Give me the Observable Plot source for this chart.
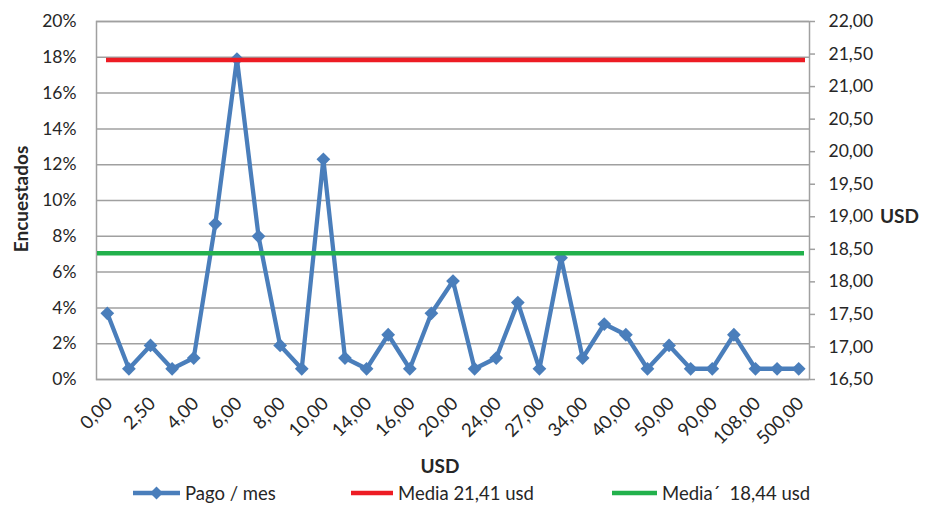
<!DOCTYPE html>
<html><head><meta charset="utf-8">
<script src="https://cdn.jsdelivr.net/npm/d3@7"></script>
<script src="https://cdn.jsdelivr.net/npm/@observablehq/plot@0.6"></script>
<style>
body{margin:0;background:#fff;font-family:Lato,"Open Sans",sans-serif;color:#262626;}
#wrap{position:relative;width:927px;height:506px;overflow:hidden;}
#chart{position:absolute;left:0;top:0;}
.t{position:absolute;font-weight:bold;white-space:nowrap;color:#262626;}
.item{position:absolute;top:482px;height:22px;display:flex;align-items:center;font-size:18.5px;color:#262626;white-space:pre;}
.item svg{margin-right:5px;}
</style></head><body>
<div id="wrap"><div id="chart"></div>
<div class="t" style="left:20px;top:199px;font-size:19px;transform:translate(-50%,-50%) rotate(-90deg);">Encuestados</div>
<div class="t" style="left:880px;top:215px;font-size:19px;transform:translate(0,-50%);">USD</div>
<div class="t" style="left:440px;top:465px;font-size:19px;transform:translate(-50%,-50%);">USD</div>
<div id="legend"></div>
</div>
<script>
const categories = ["0,00","1,00","2,50","3,00","4,00","5,00","6,00","7,00","8,00","9,00","10,00","12,00","14,00","15,00","16,00","18,00","20,00","22,00","24,00","25,00","27,00","30,00","34,00","35,00","40,00","45,00","50,00","60,00","90,00","100,00","108,00","200,00","500,00"];
const pagoMes = [3.7,0.6,1.9,0.6,1.2,8.7,17.9,8.0,1.9,0.6,12.3,1.2,0.6,2.5,0.6,3.7,5.5,0.6,1.2,4.3,0.6,6.8,1.2,3.1,2.5,0.6,1.9,0.6,0.6,2.5,0.6,0.6,0.6];
const leftTicks = [0,2,4,6,8,10,12,14,16,18,20];
const rightTicks = [16.5,17,17.5,18,18.5,19,19.5,20,20.5,21,21.5,22];
const mediaValues = [21.41, 18.44];
const seriesNames = ["Pago / mes","Media 21,41 usd","Media´  18,44 usd"];
const colors = ["#4a7ebb","#ed1c24","#22b14c"];

const rMin = rightTicks[0], rMax = rightTicks[rightTicks.length-1];
const lMax = leftTicks[leftTicks.length-1];
const toLeft = v => (v - rMin) / (rMax - rMin) * lMax;
const fmt2 = v => v.toFixed(2).replace(".", ",");

const data = pagoMes.map((v,i) => ({i, v}));
const evens = categories.map((c,i)=>i).filter(i => i % 2 === 0);

const chart = Plot.plot({
  width: 927, height: 472,
  marginLeft: 96, marginRight: 118, marginTop: 21, marginBottom: 93,
  style: {fontFamily: "Lato, 'Open Sans', sans-serif", fontSize: "17.5px", color: "#262626", background: "transparent"},
  x: {type: "linear", domain: [-0.5, categories.length - 0.5]},
  y: {domain: [0, lMax]},
  marks: [
    Plot.gridY(leftTicks, {stroke: "#a0a0a0", strokeOpacity: 1, strokeWidth: 1.5}),
    Plot.frame({stroke: "#a0a0a0", strokeWidth: 1.5}),
    Plot.axisY(leftTicks, {anchor: "left", tickSize: 0, tickPadding: 20, tickFormat: d => d + "%", label: null}),
    Plot.axisY(rightTicks.map(toLeft), {anchor: "right", tickSize: 5, tickPadding: 14, stroke: "#a0a0a0", strokeWidth: 1.5, tickFormat: (d, i) => fmt2(rightTicks[i]), label: null}),
    Plot.axisX(evens, {tickSize: 0, tickPadding: 21, dx: 2, fontSize: 18.5, tickRotate: -45, tickFormat: i => categories[i], label: null}),
    Plot.line(data, {x: "i", y: "v", stroke: colors[0], strokeWidth: 4.3, strokeLinejoin: "miter"}),
    Plot.dot(data, {x: "i", y: "v", symbol: "diamond2", r: 6.2, fill: colors[0], stroke: "none"}),
    Plot.ruleY([toLeft(mediaValues[0])], {stroke: colors[1], strokeWidth: 4.5, insetLeft: 10, insetRight: 4}),
    Plot.ruleY([toLeft(mediaValues[1])], {stroke: colors[2], strokeWidth: 4.5, insetLeft: 1, insetRight: 5})
  ]
});
document.getElementById("chart").appendChild(chart);

const legend = document.getElementById("legend");
const lx = [133, 351, 612];
const lw = [47, 42, 45];
seriesNames.forEach((name, k) => {
  const d = document.createElement("div");
  d.className = "item";
  d.style.left = lx[k] + "px";
  const w = lw[k];
  let sw = `<svg width="${w}" height="14"><line x1="0" y1="7" x2="${w}" y2="7" stroke="${colors[k]}" stroke-width="4.5"/>`;
  if (k === 0) sw += `<path d="M${w/2},0.5L${w/2+6.5},7L${w/2},13.5L${w/2-6.5},7Z" fill="${colors[k]}"/>`;
  sw += `</svg>`;
  d.innerHTML = sw + `<span>${name}</span>`;
  legend.appendChild(d);
});
</script>
</body></html>
